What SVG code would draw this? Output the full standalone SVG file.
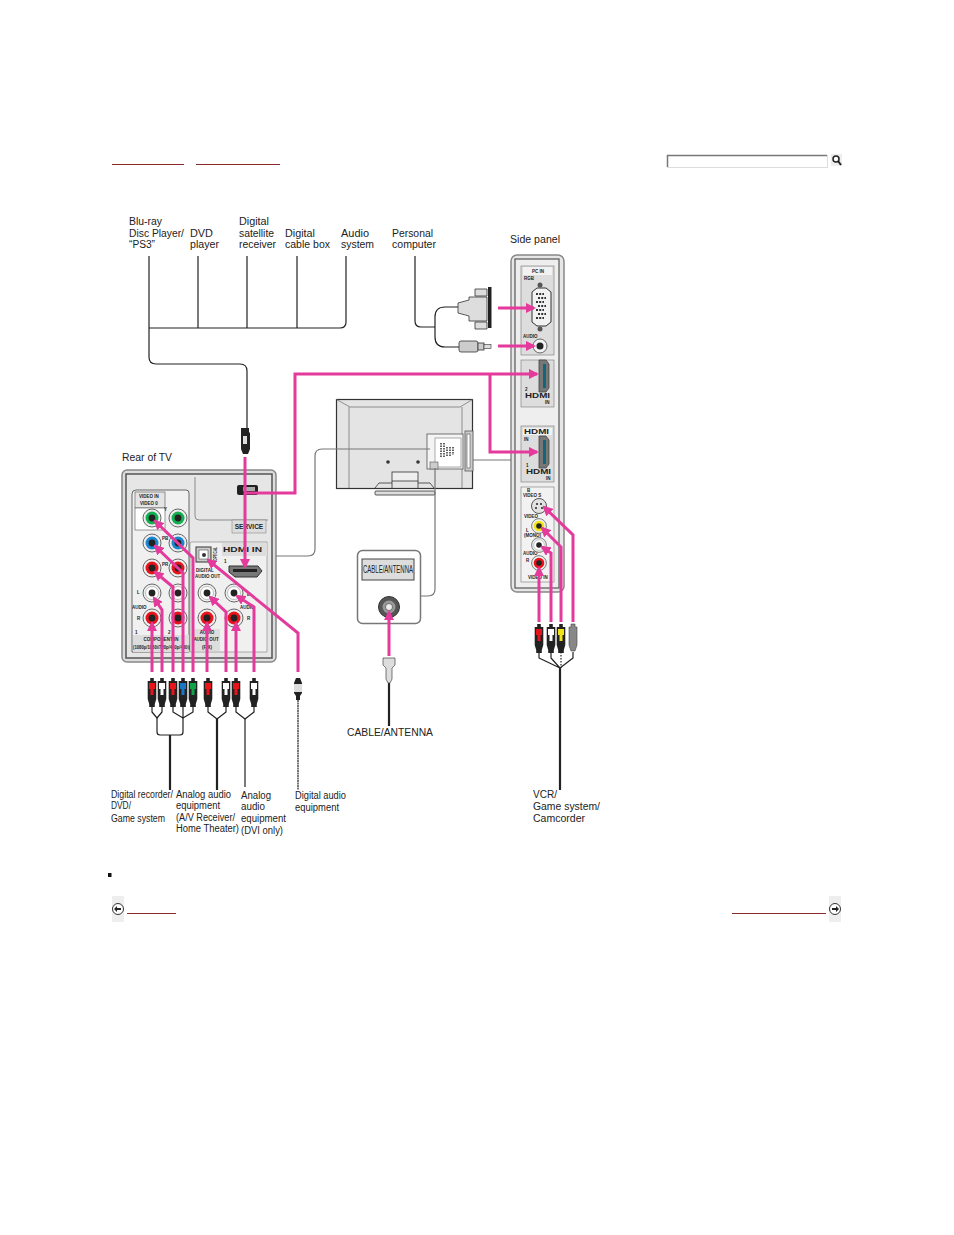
<svg xmlns="http://www.w3.org/2000/svg" width="954" height="1235" viewBox="0 0 954 1235">
<style>
text{font-family:"Liberation Sans",Arial,sans-serif;fill:#222;font-size:10px}
.t8{font-size:4.500px;font-weight:bold}
.t6{font-size:6.500px;font-weight:bold}
.w{fill:none;stroke:#222;stroke-width:1.200;stroke-linejoin:round}
.w2{fill:none;stroke:#222;stroke-width:2.200}
.g{fill:none;stroke:#777;stroke-width:1.200}
.p{fill:none;stroke:#e33a9b;stroke-width:3;stroke-linejoin:miter}
.nav{stroke:#8a2b2b;stroke-width:1}
</style>
<defs>
<marker id="a" viewBox="0 0 10 10" refX="8" refY="5" markerWidth="3.400" markerHeight="3.400" orient="auto"><path d="M0 0L10 5L0 10Z" fill="#e33a9b"/></marker>
<path id="pb" d="M-1.800-10h3.600v3h2.500v18l-1.500 5v3h-5.600v-3l-1.500-5v-18h2.500z" fill="#222"/>
<g id="plugR"><use href="#pb"/><rect x="-3" y="-5" width="6" height="6" fill="#e8141c"/><path d="M-1.500 1h3v6h-3z" fill="#e8141c"/></g>
<g id="plugW"><use href="#pb"/><rect x="-3" y="-5" width="6" height="6" fill="#fff"/><path d="M-1.500 1h3v6h-3z" fill="#fff"/></g>
<g id="plugB"><use href="#pb"/><rect x="-3" y="-5" width="6" height="6" fill="#1a76c4"/><path d="M-1.500 1h3v6h-3z" fill="#1a76c4"/></g>
<g id="plugG"><use href="#pb"/><rect x="-3" y="-5" width="6" height="6" fill="#12a34a"/><path d="M-1.500 1h3v6h-3z" fill="#12a34a"/></g>
<g id="plugY"><use href="#pb"/><rect x="-3" y="-5" width="6" height="6" fill="#f2e21a"/><path d="M-1.500 1h3v6h-3z" fill="#f2e21a"/></g>
<g id="jR"><circle r="9" fill="#eee" stroke="#666"/><circle r="6.500" fill="#e8141c"/><circle r="3.400" fill="#222"/></g>
<g id="jW"><circle r="9" fill="#eee" stroke="#666"/><circle r="6.500" fill="#fff" stroke="#999" stroke-width=".6"/><circle r="3.400" fill="#222"/></g>
<g id="jB"><circle r="9" fill="#eee" stroke="#666"/><circle r="6.500" fill="#1a86d0"/><circle r="3.400" fill="#222"/></g>
<g id="jG"><circle r="9" fill="#eee" stroke="#666"/><circle r="6.500" fill="#12b050"/><circle r="3.400" fill="#222"/></g>
<g id="jY"><circle r="9" fill="#eee" stroke="#666"/><circle r="6.500" fill="#f2e21a"/><circle r="3.400" fill="#222"/></g>
<g id="hdmiV"><path d="M-5-15h7l3 4v24l-3 4h-7z" fill="#777" stroke="#444" stroke-width=".8"/><rect x="-1" y="-11" width="3" height="24" fill="#167"/></g>
</defs>

<g id="nav-top">
<line class="nav" x1="112" y1="164.500" x2="184" y2="164.500"/>
<line class="nav" x1="196" y1="164.500" x2="280" y2="164.500"/>
</g>
<g id="search">
<rect x="667.500" y="155.500" width="160" height="12" fill="#fff" stroke="#ddd"/>
<path d="M667.500 167V155.500H827" fill="none" stroke="#777" stroke-width="1.500"/>
<rect x="831" y="154" width="11" height="12" fill="#eee"/>
<circle cx="836" cy="159" r="3" fill="#fff" stroke="#222" stroke-width="1.500"/>
<line x1="838" y1="161" x2="841" y2="165" stroke="#222" stroke-width="2"/>
</g>

<g id="labels" lengthAdjust="spacingAndGlyphs">
<text x="129" y="225" textLength="33" lengthAdjust="spacingAndGlyphs">Blu-ray</text><text x="129" y="237" textLength="55" lengthAdjust="spacingAndGlyphs">Disc Player/</text><text x="129" y="248" textLength="26" lengthAdjust="spacingAndGlyphs">“PS3”</text>
<text x="190" y="237" textLength="23" lengthAdjust="spacingAndGlyphs">DVD</text><text x="190" y="248" textLength="29" lengthAdjust="spacingAndGlyphs">player</text>
<text x="239" y="225" textLength="30" lengthAdjust="spacingAndGlyphs">Digital</text><text x="239" y="237" textLength="35" lengthAdjust="spacingAndGlyphs">satellite</text><text x="239" y="248" textLength="37" lengthAdjust="spacingAndGlyphs">receiver</text>
<text x="285" y="237" textLength="30" lengthAdjust="spacingAndGlyphs">Digital</text><text x="285" y="248" textLength="45" lengthAdjust="spacingAndGlyphs">cable box</text>
<text x="341" y="237" textLength="28" lengthAdjust="spacingAndGlyphs">Audio</text><text x="341" y="248" textLength="33" lengthAdjust="spacingAndGlyphs">system</text>
<text x="392" y="237" textLength="41" lengthAdjust="spacingAndGlyphs">Personal</text><text x="392" y="248" textLength="44" lengthAdjust="spacingAndGlyphs">computer</text>
<text x="510" y="243" textLength="50" lengthAdjust="spacingAndGlyphs">Side panel</text>
<text x="122" y="461" textLength="50" lengthAdjust="spacingAndGlyphs">Rear of TV</text>
<text x="347" y="736" textLength="86" lengthAdjust="spacingAndGlyphs">CABLE/ANTENNA</text>
<text x="111" y="798" textLength="62" lengthAdjust="spacingAndGlyphs">Digital recorder/</text><text x="111" y="809" textLength="20" lengthAdjust="spacingAndGlyphs">DVD/</text><text x="111" y="822" textLength="54" lengthAdjust="spacingAndGlyphs">Game system</text>
<text x="176" y="798" textLength="55" lengthAdjust="spacingAndGlyphs">Analog audio</text><text x="176" y="809" textLength="44" lengthAdjust="spacingAndGlyphs">equipment</text><text x="176" y="821" textLength="59" lengthAdjust="spacingAndGlyphs">(A/V Receiver/</text><text x="176" y="832" textLength="63" lengthAdjust="spacingAndGlyphs">Home Theater)</text>
<text x="241" y="799" textLength="30" lengthAdjust="spacingAndGlyphs">Analog</text><text x="241" y="810" textLength="24" lengthAdjust="spacingAndGlyphs">audio</text><text x="241" y="822" textLength="45" lengthAdjust="spacingAndGlyphs">equipment</text><text x="241" y="834" textLength="42" lengthAdjust="spacingAndGlyphs">(DVI only)</text>
<text x="295" y="799" textLength="51" lengthAdjust="spacingAndGlyphs">Digital audio</text><text x="295" y="811" textLength="44" lengthAdjust="spacingAndGlyphs">equipment</text>
<text x="533" y="798" textLength="24" lengthAdjust="spacingAndGlyphs">VCR/</text><text x="533" y="810" textLength="67" lengthAdjust="spacingAndGlyphs">Game system/</text><text x="533" y="822" textLength="52" lengthAdjust="spacingAndGlyphs">Camcorder</text>
</g>

<g id="tv">
<rect x="336.500" y="399.500" width="136" height="89" fill="#e4e4e4" stroke="#333" stroke-width="1.200"/>
<path d="M336.500 399.500L350 407H460L472.500 399.500M349 407V488M462 407V488" fill="none" stroke="#777" stroke-width=".8"/>
<rect x="427" y="434" width="36" height="35" fill="#f4f4f4" stroke="#555" stroke-width=".8"/>
<rect x="435" y="438" width="26" height="29" fill="#fff" stroke="#777" stroke-width=".6"/>
<path d="M441 443v14M444 443v14M447 447v10M450 447v10M453 447v8" stroke="#333" stroke-width="1.500" stroke-dasharray="1.500 1" fill="none"/>
<rect x="430" y="462" width="8" height="7" fill="#ccc" stroke="#555" stroke-width=".6"/>
<rect x="465" y="431" width="8" height="40" fill="#ccc" stroke="#555" stroke-width=".8"/><rect x="467" y="434" width="3" height="34" fill="#fff" stroke="#333" stroke-width=".5"/>
<circle cx="388" cy="462" r="1.800" fill="#333"/><circle cx="418" cy="462" r="1.800" fill="#333"/>
<rect x="392" y="472" width="26" height="9" fill="#eee" stroke="#333" stroke-width=".8"/>
<path d="M392 481V489M418 481V489M375 488L379 483H392M418 483H430L434 488" fill="none" stroke="#333" stroke-width=".8"/>
<rect x="375" y="491" width="60" height="4" rx="1" fill="#ddd" stroke="#333" stroke-width=".8"/>
</g>

<g id="rear-panel">
<rect x="122" y="470" width="154" height="192" rx="5" fill="#ddd" stroke="#888" stroke-width="1.500"/>
<rect x="126" y="474" width="146" height="184" fill="#e6e6e6" stroke="#555" stroke-width="1.500"/>
<path d="M195 477V516q0 4 4 4H268" fill="none" stroke="#666" stroke-width=".7"/>
<path d="M132 652V494q0-4 4-4H186q3 0 3 3V652Z" fill="#f0f0f0" stroke="#444" stroke-width=".8"/>
<rect x="135" y="492" width="30" height="16" fill="#e4e4e4" stroke="#555" stroke-width=".6"/>
<rect x="135" y="508" width="30" height="22" fill="#fff" stroke="#555" stroke-width=".6"/>
<rect x="133" y="635" width="56" height="17" fill="#ddd"/>
<text class="t8" x="149" y="498" text-anchor="middle">VIDEO IN</text><text class="t8" x="149" y="505" text-anchor="middle">VIDEO 0</text>
<text class="t8" x="164" y="511">Y</text><text class="t8" x="162" y="540">PB</text><text class="t8" x="162" y="566">PR</text>
<text class="t8" x="137" y="594">L</text><text class="t8" x="132" y="609">AUDIO</text><text class="t8" x="137" y="620">R</text>
<text class="t8" x="135" y="634">1</text><text class="t8" x="168" y="634">2</text>
<text class="t8" x="161" y="641" text-anchor="middle">COMPONENT IN</text><text class="t8" x="133" y="649" textLength="57" lengthAdjust="spacingAndGlyphs">(1080p/1080i/720p/480p/480i)</text>
<use href="#jG" x="152" y="518"/><use href="#jG" x="178" y="518"/>
<use href="#jB" x="152" y="543"/><use href="#jB" x="178" y="543"/>
<use href="#jR" x="152" y="568"/><use href="#jR" x="178" y="568"/>
<use href="#jW" x="152" y="593"/><use href="#jW" x="178" y="593"/>
<use href="#jR" x="152" y="618"/><use href="#jR" x="178" y="618"/>
<path d="M190 652V544q0-2 2-2H267V652Z" fill="#f0f0f0" stroke="#666" stroke-width=".5"/>
<rect x="196" y="547" width="15" height="15" fill="#ccc" stroke="#333"/><rect x="199" y="550" width="9" height="9" fill="#fff" stroke="#333" stroke-width=".5"/><circle cx="204" cy="555" r="2" fill="#333"/>
<text class="t8" x="196" y="572">DIGITAL</text><text class="t8" x="195" y="578">AUDIO OUT</text><text class="t8" transform="translate(217,561) rotate(-90)" textLength="14" lengthAdjust="spacingAndGlyphs">OPTICAL</text>
<rect x="222" y="543" width="45" height="13" fill="#ddd"/>
<text x="223" y="552" class="t6" textLength="39" lengthAdjust="spacingAndGlyphs">HDMI IN</text><text class="t8" x="224" y="563">1</text>
<path d="M229 566H258L262 571L257 577H235L229 572Z" fill="#777" stroke="#333"/><rect x="233" y="569" width="24" height="3" fill="#222"/>
<path d="M237 487q0-2 2-2h17q2 0 2 2v6q0 2-2 2h-17q-2 0-2-2z" fill="#222"/><rect x="243" y="487" width="12" height="4" fill="#aaa"/>
<rect x="232" y="520" width="34" height="13" fill="#ddd" stroke="#777" stroke-width=".5"/>
<text class="t6" x="249" y="529" text-anchor="middle">SERVICE</text>
<use href="#jW" x="207" y="593"/><use href="#jW" x="234" y="593"/>
<use href="#jR" x="207" y="618"/><use href="#jR" x="234" y="618"/>
<text class="t8" x="240" y="609">AUDIO</text><text class="t8" x="247" y="596">L</text><text class="t8" x="247" y="620">R</text>
<rect x="192" y="629" width="28" height="22" fill="#ddd"/>
<text class="t8" x="207" y="634" text-anchor="middle">AUDIO</text><text class="t8" x="206" y="641" text-anchor="middle">AUDIO OUT</text><text class="t8" x="207" y="649" text-anchor="middle">(FIX)</text>
</g>

<g id="side-panel">
<rect x="511" y="255" width="53" height="337" rx="6" fill="#e6e6e6" stroke="#888" stroke-width="1.500"/>
<rect x="515" y="259" width="44" height="329" fill="#eee" stroke="#555" stroke-width="1.200"/>
<rect x="521" y="266" width="33" height="89" fill="#ddd" stroke="#777" stroke-width=".6"/>
<rect x="523" y="267" width="29" height="8" fill="#f2f2f2"/>
<text class="t8" x="538" y="273" text-anchor="middle">PC IN</text><text class="t8" x="524" y="280">RGB</text>
<circle cx="540" cy="285" r="2.500" fill="#555"/><circle cx="540" cy="329" r="2.500" fill="#555"/>
<path d="M532 292L537 288H546L551 292V322L546 326H537L532 322Z" fill="#f2f2f2" stroke="#333"/>
<path d="M536 294h8M538 298h8M536 302h8M538 306h8M536 310h8M538 314h8M536 318h8" stroke="#333" stroke-width="2" stroke-dasharray="2 1.200"/>
<text class="t8" x="523" y="338">AUDIO</text>
<circle cx="540" cy="346" r="7" fill="#f2f2f2" stroke="#666"/><circle cx="540" cy="346" r="3.500" fill="#222"/>
<rect x="521" y="360" width="33" height="47" fill="#ddd" stroke="#777" stroke-width=".6"/>
<use href="#hdmiV" x="544" y="375"/>
<text class="t8" x="525" y="391">2</text><text class="t6" x="525" y="398" textLength="25" lengthAdjust="spacingAndGlyphs">HDMI</text><text class="t8" x="545" y="404">IN</text>
<rect x="521" y="426" width="33" height="56" fill="#ddd" stroke="#777" stroke-width=".6"/>
<rect x="523" y="428" width="29" height="7" fill="#f2f2f2"/>
<text class="t6" x="524" y="434" textLength="25" lengthAdjust="spacingAndGlyphs">HDMI</text><text class="t8" x="524" y="441">IN</text>
<use href="#hdmiV" x="544" y="451"/>
<text class="t8" x="526" y="467">1</text><text class="t6" x="526" y="474" textLength="25" lengthAdjust="spacingAndGlyphs">HDMI</text><text class="t8" x="546" y="480">IN</text>
<rect x="521" y="487" width="33" height="95" fill="#f2f2f2" stroke="#777" stroke-width=".6"/>
<text class="t8" x="527" y="492">B</text><text class="t8" x="523" y="497">VIDEO S</text><text class="t8" x="524" y="518">VIDEO</text><text class="t8" x="526" y="532">L</text><text class="t8" x="524" y="537">(MONO)</text><text class="t8" x="523" y="555">AUDIO</text><text class="t8" x="526" y="562">R</text><text class="t8" x="528" y="579">VIDEO IN</text>
<circle cx="539" cy="506" r="7.500" fill="#e2e2e2" stroke="#555"/><circle cx="537" cy="504" r="1" fill="#222"/><circle cx="541" cy="504" r="1" fill="#222"/><circle cx="536" cy="508" r="1" fill="#222"/><circle cx="542" cy="508" r="1" fill="#222"/>
<use href="#jY" transform="translate(539,526) scale(.82)"/><use href="#jW" transform="translate(539,545) scale(.82)"/><use href="#jR" transform="translate(539,563) scale(.82)"/>
</g>

<g id="cable-antenna-panel">
<rect x="357.500" y="550.500" width="63" height="73" rx="5" fill="#fff" stroke="#777" stroke-width="1.500"/>
<rect x="362" y="559" width="52" height="21" fill="#ddd" stroke="#444"/>
<text x="363" y="573" textLength="50" lengthAdjust="spacingAndGlyphs">CABLE/ANTENNA</text>
<circle cx="389" cy="607" r="10.500" fill="#555" stroke="#333"/><circle cx="389" cy="607" r="6.500" fill="#999"/><circle cx="389" cy="607" r="3.500" fill="#eee" stroke="#333" stroke-width=".6"/>
</g>

<g id="connectors">
<path class="w" d="M149 256V328M198 256V328M247 256V328M297 256V328M346 256V322q0 6-6 6H149"/>
<path class="w" d="M149 328V357q0 7 7 7H240q7 0 7 7V428"/>
<path class="w" d="M415 256V321q0 6 6 6H435"/>
<path class="w" d="M458 307H445q-10 0-10 10V337q0 10 10 10H460"/>
<path class="g" d="M276 556H308q7 0 7-7V456q0-7 7-7H430"/>
<path class="g" d="M435 468V589q0 7-7 7H420"/>
<path class="g" d="M473 460H511"/>
<path class="w" d="M152 706V712L157 718L162 712V706M173 706V712L183 718L193 712V706M183 706V718"/>
<path class="w" d="M157 718V732q0 3 3 3H180q3 0 3-3V718"/>
<path class="w" d="M208 706V712L217 719L226 712V706M236 706V712L245 719L254 712V706"/>
<path class="w2" d="M170 735V790M217 719V790"/>
<path class="w" d="M245 719V787"/>
<path class="w" d="M298 700V790" stroke-dasharray="2 .5"/>
<path class="w2" d="M389 683V726"/>
<path class="w" d="M539 652V658L560 668L573 658V652M551 652V658L560 668"/>
<path class="w" d="M561 652V668" stroke-dasharray="1.500 1.500"/>
<path class="w2" d="M560 668V790"/>

<path class="p" marker-end="url(#a)" d="M245 457V567"/>
<path class="p" marker-end="url(#a)" d="M245 493H295V374H537"/>
<path class="p" marker-end="url(#a)" d="M490 374V452H537"/>
<path class="p" marker-end="url(#a)" d="M498 308H534"/>
<path class="p" marker-end="url(#a)" d="M498 346H534"/>
<path class="p" marker-end="url(#a)" d="M389 656V612"/>
<path class="p" marker-end="url(#a)" d="M152 672V623"/>
<path class="p" marker-end="url(#a)" d="M162 672V610L154 598"/>
<path class="p" marker-end="url(#a)" d="M173 672V587L155 572"/>
<path class="p" marker-end="url(#a)" d="M183 672V573L155 546"/>
<path class="p" marker-end="url(#a)" d="M193 672V558L155 521"/>
<path class="p" marker-end="url(#a)" d="M207 672V623"/>
<path class="p" marker-end="url(#a)" d="M226 672V612L210 597"/>
<path class="p" marker-end="url(#a)" d="M236 672V623"/>
<path class="p" marker-end="url(#a)" d="M254 672V607L237 596"/>
<path class="p" marker-end="url(#a)" d="M298 672V633L208 560"/>
<path class="p" marker-end="url(#a)" d="M539 622V568"/>
<path class="p" marker-end="url(#a)" d="M551 622V553L542 547"/>
<path class="p" marker-end="url(#a)" d="M561 622V547L542 528"/>
<path class="p" marker-end="url(#a)" d="M573 622V535L544 507"/>
</g>

<g id="plugs">
<use href="#plugR" x="152" y="688"/><use href="#plugW" x="162" y="688"/><use href="#plugR" x="173" y="688"/><use href="#plugB" x="183" y="688"/><use href="#plugG" x="193" y="688"/>
<use href="#plugR" x="208" y="688"/><use href="#plugW" x="226" y="688"/><use href="#plugR" x="236" y="688"/><use href="#plugW" x="254" y="688"/>
<use href="#plugR" x="539" y="634"/><use href="#plugW" x="551" y="634"/><use href="#plugY" x="561" y="634"/>
<path d="M571 624h4v3h2v18l-2 6h-4l-2-6v-18h2z" fill="#888" stroke="#444" stroke-width=".6"/>
<path d="M296 678h4l2 5v10l-2 3v4h-4v-4l-2-3v-10z" fill="#222"/><rect x="294" y="684" width="8" height="8" fill="#ddd"/>
<path d="M383 658h12v7l-3 3v11l-2 4h-2l-2-4v-11l-3-3z" fill="#ddd" stroke="#444" stroke-width=".7"/>
<path d="M241 428h8v4l1 1v16l-2 5h-5l-2-5v-16l0-1z" fill="#222"/><path d="M243 436h4v8h-4z" fill="#ddd"/>
<path d="M458 303L469 300V297H487V321H469V316L458 313Z" fill="#ddd" stroke="#333" stroke-width=".8"/>
<path d="M475 289h12v7h-12zM475 322h12v7h-12z" fill="#ddd" stroke="#333" stroke-width=".8"/>
<rect x="488" y="287" width="3.500" height="41" fill="#222"/>
<rect x="459" y="341" width="19" height="11" rx="2" fill="#ccc" stroke="#333" stroke-width=".8"/><rect x="478" y="343" width="6" height="7" fill="#ccc" stroke="#333" stroke-width=".8"/><rect x="484" y="344.500" width="7" height="4" fill="#ddd" stroke="#333" stroke-width=".6"/>
</g>

<g id="footer">
<rect x="108" y="873" width="3.500" height="4" fill="#111"/>
<rect x="112" y="896" width="12" height="26" fill="#eee"/>
<circle cx="118" cy="909" r="5.500" fill="#fff" stroke="#333" stroke-width="1"/><path d="M114 909l3-3v2h4v2h-4v2z" fill="#222"/>
<line class="nav" x1="127" y1="913.500" x2="176" y2="913.500"/>
<line class="nav" x1="732" y1="913.500" x2="826" y2="913.500"/>
<rect x="829" y="896" width="12" height="26" fill="#eee"/>
<circle cx="835" cy="909" r="5.500" fill="#fff" stroke="#333" stroke-width="1"/><path d="M839 909l-3-3v2h-4v2h4v2z" fill="#222"/>
</g>
</svg>
